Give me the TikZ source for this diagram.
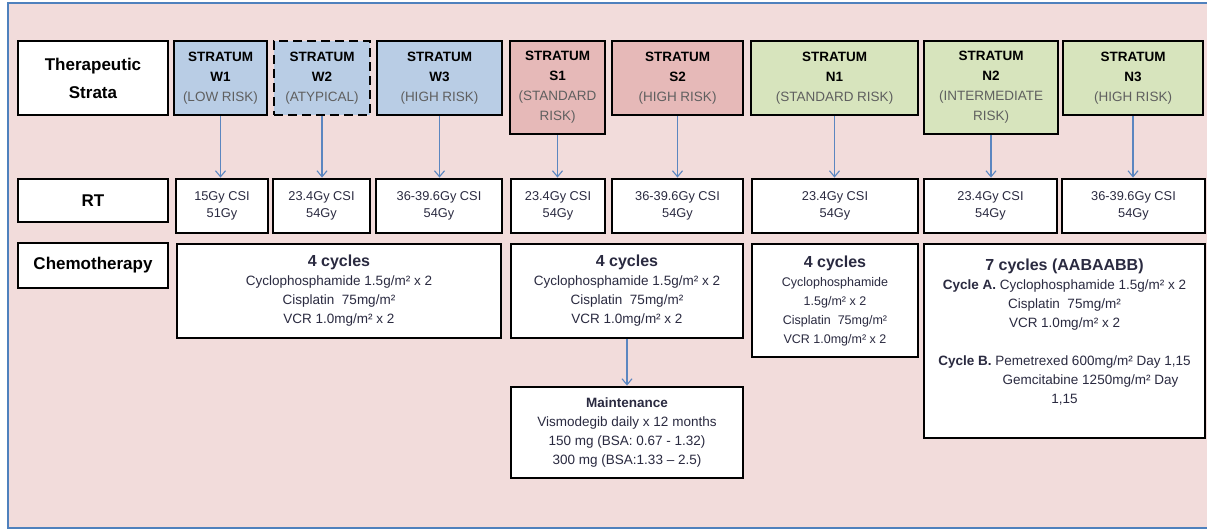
\documentclass[tikz,border=0pt]{standalone}
\usepackage{fontspec}
\setmainfont{Liberation Sans}
\usetikzlibrary{arrows.meta}
\definecolor{framebg}{HTML}{F2DCDB}
\definecolor{frameline}{HTML}{4F81BD}
\definecolor{wfill}{HTML}{B9CDE5}
\definecolor{sfill}{HTML}{E6B9B8}
\definecolor{nfill}{HTML}{D7E4BD}
\definecolor{arrowblue}{HTML}{5B86C0}
\definecolor{risktext}{HTML}{5F5F5F}
\definecolor{bodytext}{HTML}{2A2A40}
\newcommand\risk[1]{\textcolor{risktext}{#1}}
\newcommand\cyc[1]{{\fontsize{16}{19}\selectfont\bfseries #1}}

\begin{document}
\begin{tikzpicture}[x=1pt,y=-1pt,
  box/.style={draw=black,line width=2.8pt,fill=white,inner sep=0pt,align=center,text=bodytext},
  rowlabel/.style={box,text=black,minimum width=150,font=\fontsize{17}{28}\selectfont\bfseries},
  stratum/.style={box,text=black,minimum height=74,font=\fontsize{13.5}{20}\selectfont},
  rtbox/.style={box,minimum height=54,font=\fontsize{12.8}{17}\selectfont},
  chemobox/.style={box,font=\fontsize{13.5}{19}\selectfont},
  flow/.style={draw=arrowblue,line width=1.1pt,-{Straight Barb[length=6pt,width=10pt]}}]

\useasboundingbox (0,0) rectangle (1207,529);
\fill[framebg] (8,3) rectangle (1207,528);
\draw[frameline,line width=1.6pt] (1207,3) -- (8,3) -- (8,528) -- (1207,528);

\node (strata) at (93,78) [rowlabel,minimum height=74]{Therapeutic\\Strata};
\node (w1) at (220.5,78) [stratum,fill=wfill,minimum width=93]{\textbf{STRATUM}\\\textbf{W1}\\\risk{(LOW RISK)}};
\node (w2) at (322,78) [stratum,fill=wfill,minimum width=96,dash pattern=on 9pt off 5pt]{\textbf{STRATUM}\\\textbf{W2}\\\risk{(ATYPICAL)}};
\node (w3) at (439.5,78) [stratum,fill=wfill,minimum width=125]{\textbf{STRATUM}\\\textbf{W3}\\\risk{(HIGH RISK)}};
\node (s1) at (557.5,87.5) [stratum,fill=sfill,minimum width=95,minimum height=93]{\textbf{STRATUM}\\\textbf{S1}\\\risk{(STANDARD}\\\risk{RISK)}};
\node (s2) at (677.5,78) [stratum,fill=sfill,minimum width=131]{\textbf{STRATUM}\\\textbf{S2}\\\risk{(HIGH RISK)}};
\node (n1) at (834.5,78) [stratum,fill=nfill,minimum width=167]{\textbf{STRATUM}\\\textbf{N1}\\\risk{(STANDARD RISK)}};
\node (n2) at (991,87.5) [stratum,fill=nfill,minimum width=134,minimum height=93]{\textbf{STRATUM}\\\textbf{N2}\\\risk{(INTERMEDIATE}\\\risk{RISK)}};
\node (n3) at (1133,78) [stratum,fill=nfill,minimum width=140]{\textbf{STRATUM}\\\textbf{N3}\\\risk{(HIGH RISK)}};

\node (rt) at (93,200.5) [rowlabel,minimum height=43]{RT};
\node (rtw1) at (222,206) [rtbox,minimum width=92]{15Gy CSI\\51Gy};
\node (rtw2) at (321.5,206) [rtbox,minimum width=97]{23.4Gy CSI\\54Gy};
\node (rtw3) at (439,206) [rtbox,minimum width=126]{36-39.6Gy CSI\\54Gy};
\node (rts1) at (558,206) [rtbox,minimum width=94]{23.4Gy CSI\\54Gy};
\node (rts2) at (677.5,206) [rtbox,minimum width=131]{36-39.6Gy CSI\\54Gy};
\node (rtn1) at (835,206) [rtbox,minimum width=166]{23.4Gy CSI\\54Gy};
\node (rtn2) at (990.5,206) [rtbox,minimum width=133]{23.4Gy CSI\\54Gy};
\node (rtn3) at (1133.5,206) [rtbox,minimum width=143]{36-39.6Gy CSI\\54Gy};

\node (chemo) at (93,265.5) [rowlabel,minimum height=45]{Chemotherapy};
\node (wchemo) at (339,291) [chemobox,minimum width=324,minimum height=94]{\cyc{4 cycles}\\Cyclophosphamide 1.5g/m² x 2\\Cisplatin~ 75mg/m²\\VCR 1.0mg/m² x 2};
\node (schemo) at (627,291) [chemobox,minimum width=232,minimum height=94]{\cyc{4 cycles}\\Cyclophosphamide 1.5g/m² x 2\\Cisplatin~ 75mg/m²\\VCR 1.0mg/m² x 2};
\node (nchemo) at (835,300.5) [chemobox,minimum width=166,minimum height=113,font=\fontsize{12.5}{19}\selectfont]{\cyc{4 cycles}\\Cyclophosphamide\\1.5g/m² x 2\\Cisplatin~ 75mg/m²\\VCR 1.0mg/m² x 2};
\node (nnchemo) at (1064.5,341) [chemobox,minimum width=281,minimum height=194]{\cyc{7 cycles (AABAABB)}\\\textbf{Cycle A.} Cyclophosphamide 1.5g/m² x 2\\Cisplatin~ 75mg/m²\\VCR 1.0mg/m² x 2\\\mbox{}\\\textbf{Cycle B.} Pemetrexed 600mg/m² Day 1,15\\\hspace*{52pt}Gemcitabine 1250mg/m² Day\\1,15\\\mbox{}};
\node (maint) at (627,432.5) [chemobox,minimum width=232,minimum height=91]{\textbf{Maintenance}\\Vismodegib daily x 12 months\\150 mg (BSA: 0.67 - 1.32)\\300 mg (BSA:1.33 -- 2.5)};

\draw[flow] (w1.south) -- (w1.south |- rtw1.north);
\draw[flow] (w2.south) -- (w2.south |- rtw2.north);
\draw[flow] (w3.south) -- (w3.south |- rtw3.north);
\draw[flow] (s1.south) -- (s1.south |- rts1.north);
\draw[flow] (s2.south) -- (s2.south |- rts2.north);
\draw[flow] (n1.south) -- (n1.south |- rtn1.north);
\draw[flow] (n2.south) -- (n2.south |- rtn2.north);
\draw[flow] (n3.south) -- (n3.south |- rtn3.north);
\draw[flow] (schemo.south) -- (maint.north);

\end{tikzpicture}
\end{document}
